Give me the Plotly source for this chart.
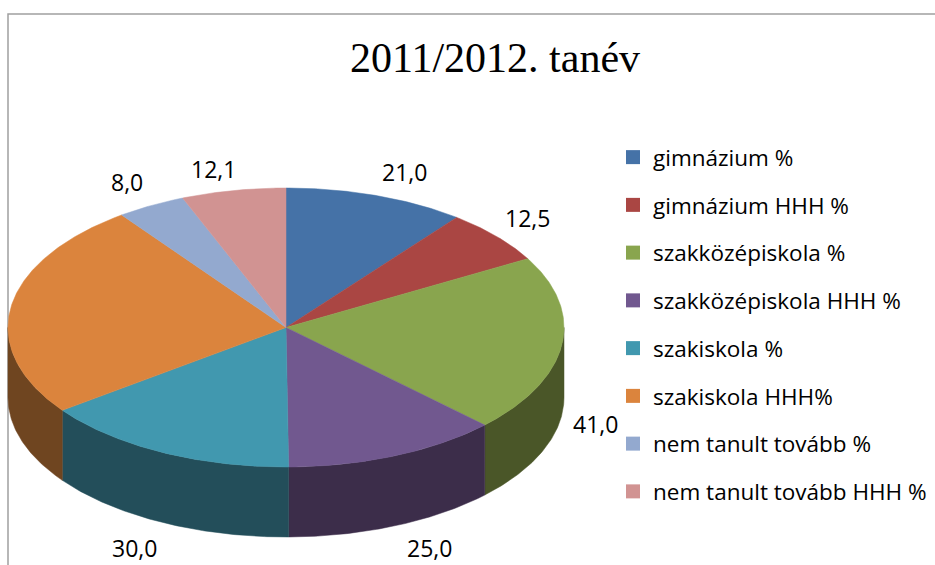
import numpy as np
import plotly.graph_objects as go

# --- data ---
categories = ["gimnázium %", "gimnázium HHH %", "szakközépiskola %", "szakközépiskola HHH %",
              "szakiskola %", "szakiskola HHH%", "nem tanult tovább %", "nem tanult tovább HHH %"]
values = [21.0, 12.5, 41.0, 25.0, 30.0, 50.0, 8.0, 12.1]
value_labels = ["21,0", "12,5", "41,0", "25,0", "30,0", "", "8,0", "12,1"]
title_text = "2011/2012. tanév"

# --- styles ---
top_colors = ["#4572A7", "#AA4643", "#89A54E", "#71588F", "#4198AF", "#DB843D", "#93A9CF", "#D19392"]
side_colors = ["#254060", "#5E2624", "#4A5628", "#3C2D4A", "#234E5A", "#6F4520", "#505D72", "#735150"]
label_shift = [(28, -24), (31, -18), (34, 9), (34, 22), (-27, 26), (0, 0), (-24, -24), (-20, -22)]

# --- projection of the tilted disc, in axis units (axes span the page) ---
CX, CY, RX, RY, DEPTH = 286.0, 327.5, 278.0, 139.5, 70.0
W, H = 935, 565


def rim(deg, drop=0.0):
    a = np.radians(deg)
    return CX + RX * np.sin(a), CY - RY * np.cos(a) + drop


def arc(a0, a1):
    n = max(2, int(abs(a1 - a0) * 2) + 1)
    return np.linspace(a0, a1, n)


edges = np.concatenate([[0.0], np.cumsum(values)]) / np.sum(values) * 360.0
fig = go.Figure()

# sides (only the front half of the disc shows a wall)
for i in range(len(values)):
    a0, a1 = max(edges[i], 90.0), min(edges[i + 1], 270.0)
    if a1 <= a0:
        continue
    t = arc(a0, a1)
    xu, yu = rim(t)
    xd, yd = rim(t[::-1], DEPTH)
    fig.add_trace(go.Scatter(x=np.r_[xu, xd, xu[0]], y=np.r_[yu, yd, yu[0]], mode="lines", fill="toself",
                             fillcolor=side_colors[i], line=dict(color=side_colors[i], width=0.5),
                             showlegend=False, hoverinfo="skip"))

# top face
for i in range(len(values)):
    xa, ya = rim(arc(edges[i], edges[i + 1]))
    fig.add_trace(go.Scatter(x=np.r_[CX, xa, CX], y=np.r_[CY, ya, CY], mode="lines", fill="toself",
                             fillcolor=top_colors[i], line=dict(color=top_colors[i], width=0.5),
                             showlegend=False, name=categories[i], hoverinfo="name"))

# legend entries
for i, name in enumerate(categories):
    fig.add_trace(go.Scatter(x=[None], y=[None], mode="markers", name=name, legendgroup=name,
                             marker=dict(symbol="square", size=14, color=top_colors[i])))

# value labels, anchored to the rim at each slice's middle
annotations = []
for i, text in enumerate(value_labels):
    if not text:
        continue
    mid = (edges[i] + edges[i + 1]) / 2
    x, y = rim(mid, DEPTH if 90 < mid < 270 else 0.0)
    annotations.append(dict(x=x, y=y, xref="x", yref="y", text=text, showarrow=False,
                            xshift=label_shift[i][0], yshift=-label_shift[i][1],
                            font=dict(family="Open Sans", size=23, color="#000000")))

fig.update_layout(
    width=W, height=H, autosize=False, margin=dict(l=0, r=0, t=0, b=0),
    paper_bgcolor="#FFFFFF", plot_bgcolor="#FFFFFF",
    xaxis=dict(range=[0, W], visible=False, fixedrange=True),
    yaxis=dict(range=[H, 0], visible=False, fixedrange=True),
    title=dict(text=title_text, x=495 / W, xanchor="center", y=1 - 57 / H, yanchor="middle",
               font=dict(family="Liberation Serif", size=42, color="#000000")),
    legend=dict(x=613 / W, xanchor="left", y=1 - 136 / H, yanchor="top", tracegroupgap=15.5,
                bgcolor="rgba(0,0,0,0)", font=dict(family="Open Sans", size=22.5, color="#000000")),
    annotations=annotations,
    shapes=[dict(type="rect", xref="x", yref="y", x0=8, y0=14, x1=W + 10, y1=H + 10, layer="below",
                 line=dict(color="#A0A0A0", width=1.5), fillcolor="rgba(0,0,0,0)")],
)
fig.write_html("out.html", config={"displayModeBar": False}, post_script="document.body.style.margin='0';")
